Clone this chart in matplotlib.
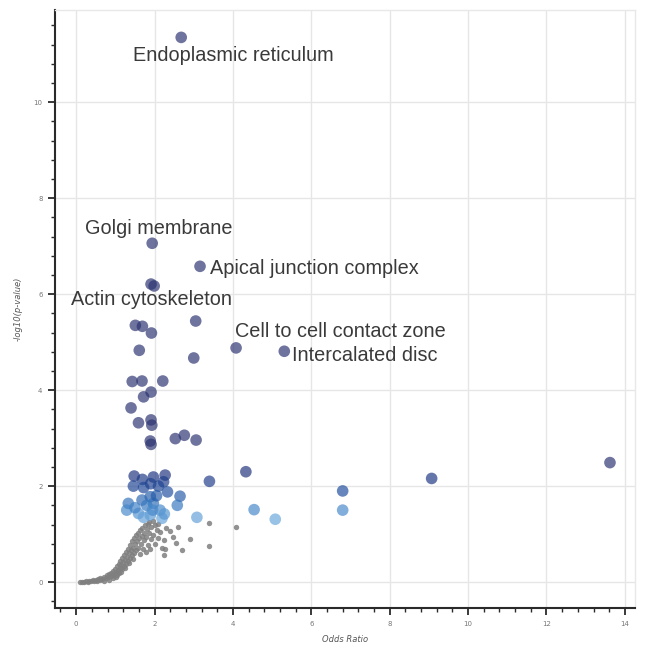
import matplotlib
matplotlib.use('Agg')
import matplotlib.pyplot as plt
from matplotlib.colors import LinearSegmentedColormap, Normalize
from matplotlib.ticker import MultipleLocator

# significant terms (odds ratio, -log10 p)
sig_or = [2.68, 1.94, 3.16, 1.91, 1.99,
          1.51, 1.69, 1.92, 3.05, 1.61, 3.00, 4.08, 5.31,
          1.43, 1.68, 2.21, 1.91, 1.72, 1.40,
          1.59, 1.91, 1.93, 1.89, 1.91, 2.53, 2.76, 3.06,
          1.48, 1.69, 1.97, 2.27, 2.23, 1.46, 1.72, 1.90, 2.10, 3.40, 4.33,
          1.89, 2.33, 2.65, 1.33, 1.68, 1.97, 2.58, 2.05, 1.80,
          1.29, 1.59, 1.89, 2.14, 1.72, 2.19, 3.08, 1.50, 1.95, 2.25,
          4.54, 5.08, 6.80, 6.80, 9.07, 13.62]
sig_p = [11.35, 7.06, 6.58, 6.21, 6.17,
         5.35, 5.33, 5.19, 5.44, 4.83, 4.67, 4.88, 4.81,
         4.18, 4.19, 4.19, 3.96, 3.86, 3.63,
         3.32, 3.38, 3.27, 2.94, 2.87, 2.99, 3.06, 2.96,
         2.21, 2.14, 2.19, 2.23, 2.09, 2.00, 1.97, 2.05, 2.00, 2.10, 2.30,
         1.78, 1.88, 1.79, 1.64, 1.71, 1.64, 1.60, 1.80, 1.60,
         1.50, 1.43, 1.40, 1.50, 1.35, 1.33, 1.35, 1.55, 1.50, 1.42,
         1.51, 1.31, 1.90, 1.50, 2.16, 2.49]

# non-significant terms
ns_or = [0.10, 0.15, 0.20, 0.25, 0.30, 0.33, 0.38, 0.42, 0.45, 0.50, 0.52, 0.56, 0.60, 0.62,
         0.66, 0.70, 0.72, 0.75, 0.78, 0.80, 0.83, 0.85, 0.88, 0.90, 0.93, 0.95, 0.98, 1.00,
         1.02, 1.03, 1.05, 1.07, 1.08, 1.10, 1.12, 1.13, 1.15, 1.17, 1.18, 1.20, 1.22, 1.23,
         1.25, 1.27, 1.28, 1.30, 1.32, 1.33, 1.35, 1.37, 1.38, 1.40, 1.42, 1.43, 1.45, 1.47,
         1.48, 1.50, 1.52, 1.53, 1.55, 1.57, 1.58, 1.60, 1.62, 1.63, 1.65, 1.67, 1.68, 1.70,
         1.72, 1.73, 1.75, 1.77, 1.78, 1.80, 1.82, 1.83, 1.85, 1.87, 1.88, 1.90, 1.92, 1.95,
         1.97, 2.00, 2.02, 2.05, 2.08, 2.10, 2.14, 2.18, 2.23, 2.25, 2.27, 2.30, 2.40, 2.48,
         2.54, 2.61, 2.70, 2.91, 3.39, 3.39, 4.07, 1.05, 0.95, 1.15, 1.25, 1.35, 1.45]
ns_p = [0.00, 0.01, 0.00, 0.02, 0.01, 0.03, 0.02, 0.04, 0.02, 0.05, 0.03, 0.07, 0.04, 0.09,
        0.06, 0.11, 0.03, 0.08, 0.14, 0.10, 0.05, 0.17, 0.12, 0.20, 0.15, 0.24, 0.18, 0.28,
        0.11, 0.22, 0.33, 0.26, 0.38, 0.19, 0.30, 0.44, 0.36, 0.50, 0.27, 0.41, 0.56, 0.33,
        0.47, 0.62, 0.38, 0.53, 0.70, 0.44, 0.60, 0.77, 0.50, 0.66, 0.85, 0.56, 0.72, 0.92,
        0.61, 0.79, 0.98, 0.66, 0.86, 1.03, 0.72, 0.92, 1.08, 0.58, 0.80, 0.97, 1.13, 0.70,
        0.88, 1.03, 1.18, 0.62, 0.95, 1.10, 1.22, 0.78, 1.02, 1.26, 0.68, 0.90, 1.15, 1.28,
        0.98, 1.20, 0.80, 1.08, 0.92, 1.22, 1.05, 0.72, 0.56, 0.88, 0.70, 1.13, 1.07, 0.95,
        0.81, 1.15, 0.67, 0.90, 1.24, 0.75, 1.14, 0.15, 0.09, 0.22, 0.29, 0.40, 0.48]

# labelled terms: (name, index into sig lists, offset in pixels)
labels = ['Endoplasmic reticulum', 'Golgi membrane', 'Apical junction complex',
          'Actin cytoskeleton', 'Cell to cell contact zone', 'Intercalated disc']
label_idx = [0, 1, 2, 3, 11, 12]
label_off = [(-48, -18), (-67, 15), (10, -2), (-80, -15), (-1, 16), (8, -4)]

fig = plt.figure(figsize=(6.51, 6.51), dpi=100)
ax = fig.add_axes([0.0845, 0.066, 0.891, 0.9186])

cmap = LinearSegmentedColormap.from_list(
    'sig', ['#6aa8dc', '#3578c0', '#1e4c9c', '#1c3380', '#2a3270'])
norm = Normalize(vmin=1.3, vmax=2.5)

ax.scatter(ns_or, ns_p, s=15, color='#7f7f7f', alpha=0.85, linewidths=0, zorder=2)
ax.scatter(sig_or, sig_p, s=70, c=sig_p, cmap=cmap, norm=norm, alpha=0.68,
           linewidths=0, zorder=3)

for name, i, off in zip(labels, label_idx, label_off):
    ax.annotate(name, (sig_or[i], sig_p[i]), xytext=off, textcoords='offset pixels',
                ha='left', va='center', fontsize=14.3, color='#3a3a3a',
                family='Liberation Sans', zorder=4)

ax.set_xlim(-0.54, 14.26)
ax.set_ylim(-0.54, 11.92)
ax.xaxis.set_major_locator(MultipleLocator(2))
ax.xaxis.set_minor_locator(MultipleLocator(0.4))
ax.yaxis.set_major_locator(MultipleLocator(2))
ax.yaxis.set_minor_locator(MultipleLocator(0.4))
ax.grid(True, which='major', color='#e6e6e6', linewidth=1, zorder=0)
ax.set_axisbelow(True)

for side in ['top', 'right']:
    ax.spines[side].set_color('#e8e8e8')
    ax.spines[side].set_linewidth(1)
for side in ['left', 'bottom']:
    ax.spines[side].set_color('#2a2a2a')
    ax.spines[side].set_linewidth(1.5)

ax.tick_params(which='major', direction='out', length=5, width=1.3, color='#2a2a2a',
               labelsize=5, labelcolor='#777777', pad=4)
ax.tick_params(which='minor', direction='out', length=3, width=1, color='#2a2a2a')

ax.set_xlabel('Odds Ratio', fontsize=6, style='italic', color='#555555', labelpad=6)
ax.set_ylabel('-log10(p-value)', fontsize=6, style='italic', color='#555555', labelpad=8)

fig.savefig('out.png', dpi=100)
